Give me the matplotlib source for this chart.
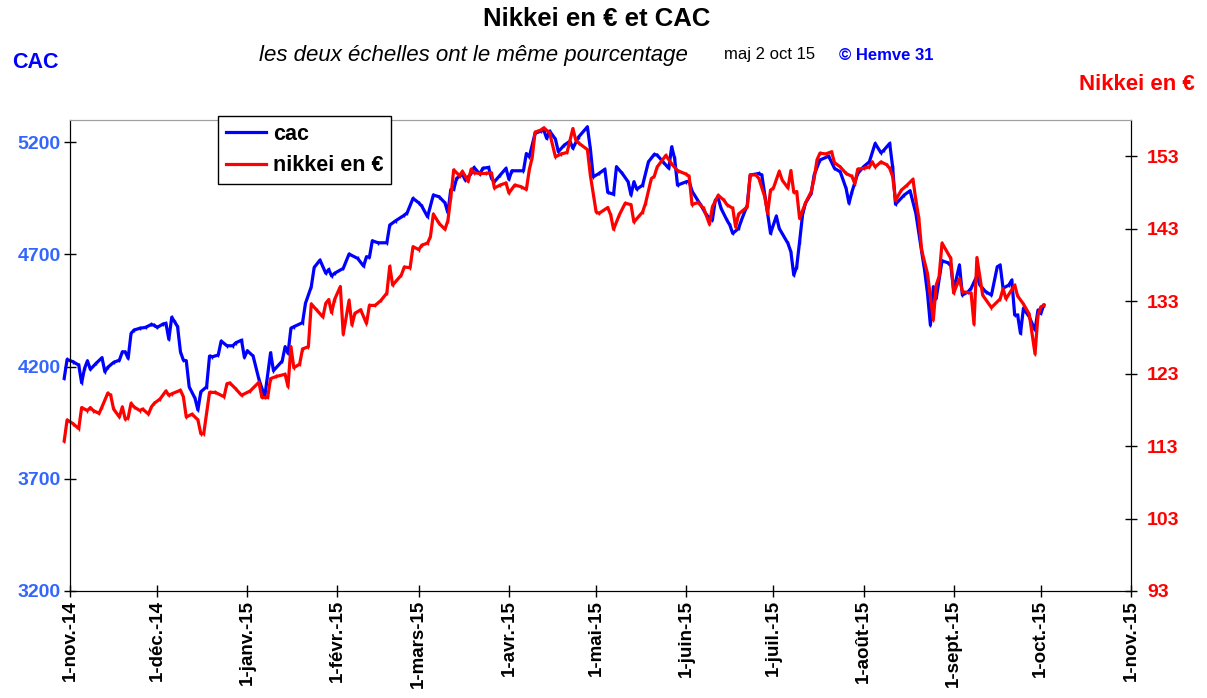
import matplotlib
matplotlib.use("Agg")
import matplotlib.pyplot as plt
import pandas as pd

plt.rcParams["font.family"] = ["Liberation Sans", "DejaVu Sans"]
plt.rcParams["font.weight"] = "bold"

# ── Data ──────────────────────────────────────────────────────────────────────

cac_dates = [
    "2014-10-30", "2014-10-31", "2014-11-02", "2014-11-04", "2014-11-05", "2014-11-06",
    "2014-11-07", "2014-11-08", "2014-11-10", "2014-11-12", "2014-11-13", "2014-11-14",
    "2014-11-16", "2014-11-18", "2014-11-19", "2014-11-20", "2014-11-21", "2014-11-22",
    "2014-11-23", "2014-11-25", "2014-11-27", "2014-11-29", "2014-11-30", "2014-12-01",
    "2014-12-03", "2014-12-04", "2014-12-05", "2014-12-06", "2014-12-07", "2014-12-08",
    "2014-12-09", "2014-12-10", "2014-12-11", "2014-12-12", "2014-12-14", "2014-12-15",
    "2014-12-16", "2014-12-18", "2014-12-19", "2014-12-20", "2014-12-22", "2014-12-23",
    "2014-12-25", "2014-12-27", "2014-12-28", "2014-12-30", "2014-12-31", "2015-01-01",
    "2015-01-03", "2015-01-05", "2015-01-07", "2015-01-09", "2015-01-10", "2015-01-13",
    "2015-01-14", "2015-01-15", "2015-01-16", "2015-01-17", "2015-01-20", "2015-01-21",
    "2015-01-23", "2015-01-24", "2015-01-26", "2015-01-28", "2015-01-29", "2015-01-30",
    "2015-01-31", "2015-02-03", "2015-02-05", "2015-02-08", "2015-02-10", "2015-02-11",
    "2015-02-12", "2015-02-13", "2015-02-15", "2015-02-18", "2015-02-19", "2015-02-21",
    "2015-02-24", "2015-02-25", "2015-02-27", "2015-03-01", "2015-03-02", "2015-03-04",
    "2015-03-05", "2015-03-06", "2015-03-08", "2015-03-10", "2015-03-11", "2015-03-12",
    "2015-03-13", "2015-03-14", "2015-03-16", "2015-03-17", "2015-03-19", "2015-03-20",
    "2015-03-22", "2015-03-23", "2015-03-25", "2015-03-26", "2015-03-27", "2015-03-29",
    "2015-03-31", "2015-04-01", "2015-04-02", "2015-04-06", "2015-04-07", "2015-04-08",
    "2015-04-10", "2015-04-12", "2015-04-13", "2015-04-14", "2015-04-15", "2015-04-17",
    "2015-04-18", "2015-04-20", "2015-04-22", "2015-04-23", "2015-04-25", "2015-04-28",
    "2015-04-29", "2015-04-30", "2015-05-02", "2015-05-04", "2015-05-05", "2015-05-07",
    "2015-05-08", "2015-05-10", "2015-05-12", "2015-05-13", "2015-05-14", "2015-05-15",
    "2015-05-17", "2015-05-19", "2015-05-21", "2015-05-22", "2015-05-24", "2015-05-26",
    "2015-05-27", "2015-05-28", "2015-05-29", "2015-06-01", "2015-06-02", "2015-06-03",
    "2015-06-06", "2015-06-08", "2015-06-10", "2015-06-11", "2015-06-12", "2015-06-13",
    "2015-06-15", "2015-06-16", "2015-06-17", "2015-06-19", "2015-06-20", "2015-06-22",
    "2015-06-23", "2015-06-26", "2015-06-27", "2015-06-29", "2015-06-30", "2015-07-02",
    "2015-07-03", "2015-07-06", "2015-07-07", "2015-07-08", "2015-07-09", "2015-07-10",
    "2015-07-11", "2015-07-12", "2015-07-14", "2015-07-15", "2015-07-17", "2015-07-20",
    "2015-07-22", "2015-07-24", "2015-07-26", "2015-07-27", "2015-07-28", "2015-07-30",
    "2015-08-01", "2015-08-03", "2015-08-05", "2015-08-07", "2015-08-08", "2015-08-10",
    "2015-08-11", "2015-08-12", "2015-08-15", "2015-08-17", "2015-08-19", "2015-08-21",
    "2015-08-22", "2015-08-23", "2015-08-24", "2015-08-25", "2015-08-26", "2015-08-28",
    "2015-08-30", "2015-08-31", "2015-09-01", "2015-09-03", "2015-09-04", "2015-09-06",
    "2015-09-07", "2015-09-09", "2015-09-10", "2015-09-12", "2015-09-14", "2015-09-16",
    "2015-09-17", "2015-09-18", "2015-09-20", "2015-09-21", "2015-09-22", "2015-09-23",
    "2015-09-24", "2015-09-25", "2015-09-27", "2015-09-29", "2015-09-30", "2015-10-01",
    "2015-10-02",
]
cac_values = [
    4148, 4232, 4222, 4207, 4128, 4192,
    4226, 4188, 4215, 4240, 4177, 4197,
    4219, 4229, 4266, 4266, 4237, 4348,
    4363, 4371, 4375, 4388, 4384, 4375,
    4390, 4393, 4322, 4420, 4400, 4378,
    4266, 4229, 4226, 4110, 4059, 4007,
    4088, 4110, 4247, 4244, 4252, 4314,
    4293, 4293, 4306, 4318, 4241, 4271,
    4247, 4143, 4066, 4262, 4182, 4225,
    4289, 4259, 4371, 4378, 4396, 4482,
    4556, 4642, 4675, 4616, 4633, 4604,
    4616, 4638, 4702, 4682, 4648, 4690,
    4687, 4761, 4752, 4752, 4831, 4850,
    4875, 4886, 4950, 4930, 4916, 4868,
    4916, 4965, 4957, 4930, 4886, 4990,
    4990, 5039, 5057, 5031, 5061, 5088,
    5058, 5084, 5088, 5039, 5024, 5054,
    5084, 5035, 5073, 5073, 5150, 5135,
    5240, 5250, 5254, 5217, 5250, 5214,
    5158, 5187, 5205, 5173, 5224, 5269,
    5173, 5046, 5061, 5080, 4977, 4968,
    5091, 5061, 5024, 4965, 5024, 4991,
    5009, 5113, 5146, 5143, 5113, 5084,
    5180, 5128, 5009, 5024, 5027, 4982,
    4920, 4875, 4853, 4942, 4950, 4905,
    4853, 4831, 4794, 4816, 4853, 4920,
    5054, 5061, 5054, 4883, 4794, 4871,
    4816, 4749, 4712, 4608, 4645, 4757,
    4875, 4928, 4972, 5054, 5121, 5138,
    5084, 5068, 4994, 4928, 4979, 5061,
    5091, 5113, 5195, 5153, 5165, 5195,
    5091, 4924, 4965, 4984, 4883, 4712,
    4630, 4527, 4385, 4556, 4504, 4672,
    4663, 4653, 4541, 4653, 4519, 4534,
    4549, 4604, 4564, 4534, 4519, 4645,
    4653, 4549, 4564, 4586, 4430, 4430,
    4348, 4460, 4422, 4363, 4452, 4437,
    4474,
]

nikkei_dates = [
    "2014-10-30", "2014-10-31", "2014-11-02", "2014-11-04", "2014-11-05", "2014-11-07",
    "2014-11-08", "2014-11-09", "2014-11-11", "2014-11-12", "2014-11-14", "2014-11-15",
    "2014-11-16", "2014-11-18", "2014-11-19", "2014-11-20", "2014-11-21", "2014-11-22",
    "2014-11-23", "2014-11-25", "2014-11-26", "2014-11-28", "2014-11-29", "2014-11-30",
    "2014-12-02", "2014-12-04", "2014-12-05", "2014-12-06", "2014-12-09", "2014-12-10",
    "2014-12-11", "2014-12-13", "2014-12-15", "2014-12-16", "2014-12-17", "2014-12-19",
    "2014-12-21", "2014-12-24", "2014-12-25", "2014-12-26", "2014-12-28", "2014-12-30",
    "2015-01-02", "2015-01-05", "2015-01-06", "2015-01-08", "2015-01-09", "2015-01-11",
    "2015-01-14", "2015-01-15", "2015-01-16", "2015-01-17", "2015-01-19", "2015-01-20",
    "2015-01-22", "2015-01-23", "2015-01-25", "2015-01-27", "2015-01-28", "2015-01-29",
    "2015-01-30", "2015-01-31", "2015-02-02", "2015-02-03", "2015-02-05", "2015-02-06",
    "2015-02-07", "2015-02-09", "2015-02-11", "2015-02-12", "2015-02-14", "2015-02-16",
    "2015-02-18", "2015-02-19", "2015-02-20", "2015-02-23", "2015-02-24", "2015-02-26",
    "2015-02-27", "2015-03-01", "2015-03-02", "2015-03-04", "2015-03-05", "2015-03-06",
    "2015-03-08", "2015-03-10", "2015-03-11", "2015-03-12", "2015-03-13", "2015-03-15",
    "2015-03-16", "2015-03-17", "2015-03-18", "2015-03-19", "2015-03-20", "2015-03-22",
    "2015-03-24", "2015-03-26", "2015-03-27", "2015-03-29", "2015-03-31", "2015-04-01",
    "2015-04-03", "2015-04-05", "2015-04-07", "2015-04-08", "2015-04-09", "2015-04-10",
    "2015-04-12", "2015-04-13", "2015-04-15", "2015-04-17", "2015-04-19", "2015-04-21",
    "2015-04-23", "2015-04-24", "2015-04-25", "2015-04-28", "2015-04-29", "2015-05-01",
    "2015-05-02", "2015-05-05", "2015-05-06", "2015-05-07", "2015-05-09", "2015-05-11",
    "2015-05-13", "2015-05-14", "2015-05-17", "2015-05-18", "2015-05-20", "2015-05-21",
    "2015-05-22", "2015-05-25", "2015-05-27", "2015-05-29", "2015-06-01", "2015-06-02",
    "2015-06-03", "2015-06-05", "2015-06-07", "2015-06-09", "2015-06-10", "2015-06-12",
    "2015-06-14", "2015-06-15", "2015-06-17", "2015-06-18", "2015-06-19", "2015-06-22",
    "2015-06-23", "2015-06-25", "2015-06-26", "2015-06-28", "2015-06-29", "2015-06-30",
    "2015-07-01", "2015-07-03", "2015-07-04", "2015-07-06", "2015-07-07", "2015-07-08",
    "2015-07-09", "2015-07-10", "2015-07-12", "2015-07-14", "2015-07-15", "2015-07-16",
    "2015-07-17", "2015-07-19", "2015-07-21", "2015-07-22", "2015-07-24", "2015-07-26",
    "2015-07-28", "2015-07-29", "2015-07-30", "2015-08-01", "2015-08-03", "2015-08-04",
    "2015-08-05", "2015-08-07", "2015-08-09", "2015-08-10", "2015-08-11", "2015-08-12",
    "2015-08-14", "2015-08-16", "2015-08-18", "2015-08-19", "2015-08-20", "2015-08-21",
    "2015-08-23", "2015-08-25", "2015-08-26", "2015-08-27", "2015-08-28", "2015-08-31",
    "2015-09-01", "2015-09-03", "2015-09-04", "2015-09-07", "2015-09-08", "2015-09-09",
    "2015-09-11", "2015-09-14", "2015-09-17", "2015-09-18", "2015-09-19", "2015-09-22",
    "2015-09-23", "2015-09-25", "2015-09-27", "2015-09-29", "2015-09-30", "2015-10-01",
    "2015-10-02",
]
nikkei_values = [
    113.7, 116.6, 116.1, 115.4, 118.3, 117.9,
    118.3, 117.9, 117.5, 118.4, 120.3, 120.0,
    118.1, 117.0, 118.4, 116.7, 116.9, 118.9,
    118.4, 117.9, 118.1, 117.4, 118.4, 118.9,
    119.5, 120.6, 120.0, 120.2, 120.7, 119.8,
    117.0, 117.4, 116.6, 114.7, 114.7, 120.4,
    120.4, 119.8, 121.6, 121.7, 120.9, 120.0,
    120.6, 121.8, 119.7, 119.7, 122.3, 122.6,
    122.9, 121.2, 126.7, 123.8, 124.3, 126.4,
    126.7, 132.6, 131.7, 130.8, 132.7, 133.2,
    131.4, 133.2, 135.0, 128.4, 133.1, 129.7,
    131.3, 131.8, 129.9, 132.4, 132.4, 133.1,
    134.1, 137.8, 135.2, 136.6, 137.7, 137.6,
    140.5, 140.1, 140.7, 141.0, 141.9, 145.0,
    143.7, 142.9, 144.1, 147.3, 151.1, 150.3,
    150.9, 150.2, 149.5, 151.2, 150.7, 150.6,
    150.6, 150.7, 148.6, 149.0, 149.3, 147.9,
    149.0, 148.8, 148.4, 151.1, 152.8, 156.3,
    156.6, 156.9, 156.2, 152.9, 153.3, 153.5,
    156.8, 155.2, 154.8, 153.9, 150.4, 145.3,
    145.1, 145.9, 144.9, 142.9, 144.9, 146.5,
    146.3, 143.9, 145.3, 146.5, 149.9, 150.2,
    151.5, 153.1, 151.9, 151.0, 150.5, 150.2,
    146.3, 146.6, 145.8, 143.6, 146.0, 147.6,
    146.9, 146.3, 145.8, 143.2, 145.0, 146.0,
    150.4, 150.4, 149.9, 147.4, 145.1, 148.3,
    148.6, 150.9, 149.7, 148.6, 151.0, 148.0,
    148.1, 144.4, 146.5, 148.1, 149.9, 152.5,
    153.4, 153.3, 153.6, 152.1, 151.5, 150.6,
    150.2, 149.2, 151.2, 151.3, 151.5, 152.2,
    151.5, 152.2, 151.8, 151.3, 150.2, 146.9,
    148.3, 149.0, 149.8, 146.9, 144.5, 140.0,
    136.8, 130.4, 135.2, 136.4, 141.0, 138.9,
    134.1, 136.1, 134.3, 134.1, 129.8, 139.0,
    133.8, 132.1, 133.3, 134.7, 133.3, 135.2,
    133.7, 132.6, 131.2, 125.7, 131.0, 132.2,
    132.4,
]

month_ticks = [
    "2014-11-01", "2014-12-01", "2015-01-01", "2015-02-01", "2015-03-01", "2015-04-01",
    "2015-05-01", "2015-06-01", "2015-07-01", "2015-08-01", "2015-09-01", "2015-10-01",
    "2015-11-01",
]
month_labels = [
    "1-nov.-14", "1-déc.-14", "1-janv.-15", "1-févr.-15", "1-mars-15", "1-avr.-15",
    "1-mai-15", "1-juin-15", "1-juil.-15", "1-août-15", "1-sept.-15", "1-oct.-15",
    "1-nov.-15",
]
cac_ticks = [3200, 3700, 4200, 4700, 5200]
nikkei_ticks = [93, 103, 113, 123, 133, 143, 153]

# ── Figure ────────────────────────────────────────────────────────────────────

fig = plt.figure(figsize=(12.07, 6.98), dpi=100)
ax = fig.add_axes([0.058, 0.1533, 0.879, 0.675])
ax2 = ax.twinx()

line_cac, = ax.plot(pd.to_datetime(cac_dates), cac_values, color="#0000ff", linewidth=2.3,
                    marker="|", markersize=3, clip_on=False, label="cac")
line_nik, = ax2.plot(pd.to_datetime(nikkei_dates), nikkei_values, color="#ff0000",
                     linewidth=2.3, marker="|", markersize=3, clip_on=False,
                     label="nikkei en €")

ax.set_xlim(pd.Timestamp("2014-11-01"), pd.Timestamp("2015-11-01"))
ax.set_ylim(3200, 5300)
ax2.set_ylim(93, 158)

ax.set_xticks(pd.to_datetime(month_ticks))
ax.set_xticklabels(month_labels, rotation=90, fontsize=13.5, fontweight="bold")
ax.set_yticks(cac_ticks)
ax2.set_yticks(nikkei_ticks)

ax.tick_params(axis="x", direction="inout", length=9, width=1, pad=2)
ax.tick_params(axis="y", direction="inout", length=9, width=1, pad=2,
               labelsize=14, labelcolor="#3366ff")
ax2.tick_params(axis="y", direction="inout", length=9, width=1, pad=7,
                labelsize=14, labelcolor="#ff0000")

for a in (ax, ax2):
    a.spines["top"].set_color("#a0a0a0")
    for side in ("left", "right", "bottom"):
        a.spines[side].set_color("black")

leg = ax2.legend(handles=[line_cac, line_nik], loc="upper left",
                 bbox_to_anchor=(218 / 1207, 1 - 116 / 698), bbox_transform=fig.transFigure,
                 borderaxespad=0, fancybox=False, framealpha=1, edgecolor="black",
                 fontsize=15.5, handlelength=1.9, handletextpad=0.3, labelspacing=0.5,
                 borderpad=0.35)
leg.get_frame().set_linewidth(1)
for h in leg.legend_handles:
    h.set_marker("")

# ── Titles and annotations ────────────────────────────────────────────────────

fig.text(597 / 1207, 1 - 19 / 698, "Nikkei en € et CAC", ha="center", va="center",
         fontsize=18.5, fontweight="bold")
fig.text(473 / 1207, 1 - 55 / 698, "les deux échelles ont le même pourcentage",
         ha="center", va="center", fontsize=16, fontstyle="italic", fontweight="normal")
fig.text(770 / 1207, 1 - 55 / 698, "maj 2 oct 15", ha="center", va="center",
         fontsize=12, fontweight="normal")
fig.text(886 / 1207, 1 - 56 / 698, "© Hemve 31", ha="center", va="center",
         fontsize=12, fontweight="bold", color="#0000ff")
fig.text(12 / 1207, 1 - 63 / 698, "CAC", ha="left", va="center",
         fontsize=15.5, fontweight="bold", color="#0000ff")
fig.text(1195 / 1207, 1 - 84 / 698, "Nikkei en €", ha="right", va="center",
         fontsize=16, fontweight="bold", color="#ff0000")

fig.savefig("out.png", dpi=100)
